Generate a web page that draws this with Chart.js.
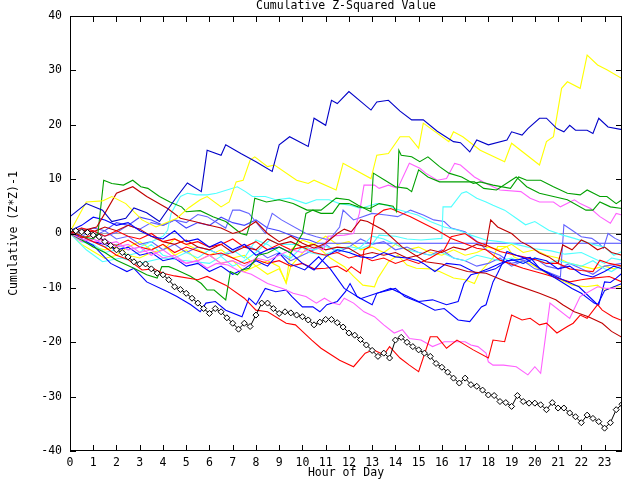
<!DOCTYPE html>
<html><head><meta charset="utf-8">
<script src="https://cdn.jsdelivr.net/npm/chart.js@4.4.0/dist/chart.umd.min.js"></script>
<style>html,body{margin:0;padding:0;background:#fff}canvas{display:block}</style>
</head><body>
<canvas id="c" width="640" height="480"></canvas>
<script>
// ---------- text ----------
const chartTitle = 'Cumulative Z-Squared Value';
const xTitle = 'Hour of Day';
const yTitle = 'Cumulative (Z*Z)-1';
// ---------- tick labels ----------
const xTickHours = [0,1,2,3,4,5,6,7,8,9,10,11,12,13,14,15,16,17,18,19,20,21,22,23];
const yTickValues = [-40,-30,-20,-10,0,10,20,30,40];
// ---------- series: [hour, value] ----------
const blackValues = [
 0.6,0.5,0.3,0.2, -0.3,-0.6,-1.5,-2.2, -3,-3.5,-4.3,-5.2, -5.6,-5.6,-6.5,-7.3,
 -7.6,-8.5,-9.8,-10.3, -11,-11.9,-12.8,-13.8, -14.7,-13.8,-14.4,-15.5, -16.5,-17.6,-16.5,-17.1,
 -15,-12.8,-12.8,-13.8, -14.7,-14.4,-14.6,-15, -15.3,-15.9,-16.8,-16.3, -15.8,-15.8,-16.4,-17.2,
 -18.3,-18.7,-19.5,-20.5, -21.5,-22.6,-22,-22.9, -19.6,-19.1,-20,-20.8, -21.4,-22,-22.6,-23.9,
 -24.6,-25.5,-26.6,-27.5, -26.6,-27.8,-28.1,-28.8, -29.7,-29.8,-30.9,-31.1, -31.8,-29.8,-30.9,-31.2,
 -31.2,-31.5,-32.4,-31.1, -32.1,-32.1,-33,-33.7, -34.8,-33.4,-34,-34.6, -35.8,-34.8,-32.4,-31.4];
const blackHours = blackValues.map((v, i) => i / 4);

const navy = [[0,3.1],[0.7,5.5],[1.4,4.3],[1.8,2.2],[2.4,2.8],[2.75,4.7],[3.3,3.8],[3.85,2.2],[4.5,6.2],[5.05,9.3],[5.65,7.7],[5.9,15.3],[6.5,14.4],[6.7,16.3],[7.35,14.7],[8,13.2],[8.7,11.4],[9,16.3],[9.45,17.8],[10.25,16],[10.5,21.2],[11,19.9],[11.25,24.5],[11.5,23.9],[12,26.1],[12.95,22.7],[13.2,24.2],[13.7,24.5],[14.2,22.5],[14.7,20.9],[15.2,20.9],[15.8,18.8],[16.5,16.9],[16.8,16.7],[17.2,15],[17.5,17.2],[18,16.3],[18.8,17.2],[19,18.7],[19.45,18.1],[19.7,19.3],[20.2,21.2],[20.5,21.2],[20.95,19.3],[21.25,18.7],[21.5,19.9],[21.75,19],[22.25,19],[22.5,18.4],[22.75,21.2],[23.15,19.6],[23.75,19.1]];
const yellowTop = [[0,0.3],[0.7,5.8],[1.4,6],[1.8,6.8],[2.4,5.5],[3.1,2.5],[3.7,1.2],[4.6,2.8],[5.1,4.7],[5.6,6.2],[5.9,6.8],[6.5,4.9],[6.85,5.8],[7.15,9.5],[7.45,9.8],[7.75,13.5],[7.95,14.1],[8.5,12.3],[8.8,12.6],[9.75,9.8],[10.25,9.2],[10.5,9.8],[11.45,8],[11.75,12.9],[12.95,10.1],[13.2,14.4],[13.7,14.7],[14.2,17.8],[14.6,17.8],[15,15.7],[15.2,20.3],[16.3,16.9],[16.5,18.7],[16.9,17.8],[17.65,15.3],[18.7,13.2],[19,16.6],[20.2,12.6],[20.5,16.9],[20.8,17.8],[21.15,26.7],[21.4,27.9],[21.95,26.7],[22.25,32.8],[22.7,31],[23.1,30.1],[23.75,28.5]];
const redLow = [[0,0.5],[0.5,-0.5],[1,-1.5],[1.5,-2.5],[2,-4],[2.5,-4.8],[3.1,-6.7],[3.6,-6.5],[4,-7.3],[4.5,-7.8],[5.5,-8.5],[5.9,-7.9],[6.7,-9.5],[7.5,-11.9],[8,-14.1],[8.5,-14.4],[9.3,-16.5],[9.7,-16.8],[10,-18],[10.4,-19.6],[10.8,-21.1],[11.2,-22.2],[11.6,-23.3],[12.2,-24.5],[12.7,-22],[13.05,-21.4],[13.5,-22.3],[13.75,-20.8],[14.2,-22.9],[14.6,-24.2],[15,-25.4],[15.5,-19],[15.8,-19],[16.2,-21.1],[16.65,-19.6],[17.35,-21.4],[18,-22.9],[18.2,-19.6],[18.7,-19.9],[19,-15],[19.45,-15.9],[19.8,-15.6],[20.2,-16.8],[20.5,-16.5],[20.95,-18.3],[21.4,-17.1],[21.65,-16.5],[21.95,-15],[22.25,-15.6],[22.7,-13.1],[22.9,-14.1],[23.35,-15.3],[23.75,-16]];
const darkRed1 = [[0,0],[0.5,0.5],[1.15,1.2],[1.5,3.7],[2,7.4],[2.7,8.6],[3.3,6.8],[4.2,4.6],[4.75,2.8],[5.35,2.2],[5.9,1.6],[6.5,1],[7,0],[7.4,0.5],[8,2.2],[8.5,0],[9,-1.5],[9.5,-0.5],[10,-1.8],[10.5,-2.7],[11,-1.8],[11.5,0],[11.8,0.8],[12.1,0.3],[12.5,2.5],[12.8,2.2],[13.5,0.6],[14.3,-2.5],[15.3,-5.2],[16,-5.6],[17.1,-7],[17.9,-7.3],[18.8,-8.9],[20.2,-11],[20.9,-12.2],[21.2,-13.1],[21.7,-14.4],[22.3,-15.3],[22.9,-16.5],[23.3,-18],[23.75,-19.1]];
const darkRed2 = [[0,0],[0.5,0.6],[1,0.3],[1.5,1.2],[2,0.5],[2.5,1.5],[3,0.8],[3.5,-0.5],[4,-1.5],[4.5,-2],[5,-1.2],[5.5,-2.5],[6,-3],[6.5,-2],[7,-3.5],[7.5,-2.5],[8,-3],[8.5,-1],[9,-2],[9.5,-1.5],[10,-2.5],[10.5,-2],[11,-3],[11.5,-2.5],[12,-2.7],[12.5,-4],[13,-3.5],[13.5,-4],[14,-3.5],[14.5,-4.5],[15,-4],[15.5,-3],[16,-3.5],[16.5,-2.5],[17,-3],[17.5,-2],[17.9,-2.4],[18.1,2.5],[18.4,1.2],[19,0],[19.4,-1.5],[19.8,-2.4],[20.2,-3.6],[20.6,-4.3],[21,-5.5],[21.2,-2.1],[21.6,-3],[22,-1.2],[22.3,-1.8],[22.7,-3],[23,-2.5],[23.3,-3.5],[23.75,-4]];
const red2 = [[0,0],[0.5,-0.8],[1,-0.3],[1.5,-1.5],[2,-2.2],[2.5,-1.2],[3,-2.5],[3.5,-3],[4,-2],[4.5,-3.5],[5,-2.5],[5.5,-3.2],[6,-4],[6.5,-3.6],[7,-4.5],[7.5,-5.5],[8,-4.8],[8.5,-5.5],[9,-5],[9.5,-6],[10,-5.5],[10.5,-6.5],[11,-6.4],[11.5,-6],[11.9,-7],[12.1,-6.1],[12.5,-7.3],[12.65,-3],[12.9,-2.4],[13.1,3.1],[13.5,4.3],[13.8,4.6],[14.65,3.1],[15.2,1.9],[15.8,0.6],[16.4,-0.9],[16.95,-1.8],[17.5,-2.7],[17.9,-3],[18.5,-4.9],[19.5,-6.4],[20.5,-7.6],[21.5,-8.9],[22,-8.5],[22.5,-8.2],[23.2,-7.9],[23.75,-8.9]];
const red3 = [[0,0.3],[0.5,1],[1,0.5],[1.5,-0.5],[2,0.5],[2.5,-0.5],[3,-1],[3.5,0],[4,-1.5],[4.5,-1],[5,-2],[5.5,-1.5],[6,-2.5],[6.5,-2],[7,-1],[7.5,-2.5],[8,-1.5],[8.5,-3],[9,-2],[9.5,-3],[10,-2.5],[10.5,-3.5],[11,-4],[11.5,-3.5],[12,-4.5],[12.5,-4],[13,-5],[13.5,-4.5],[14,-5.5],[14.5,-4.8],[15,-5.5],[15.5,-4.5],[16.1,-3],[16.4,-0.6],[17,0],[17.5,-1.5],[17.9,-2.1],[18.5,-3.3],[19,-3.8],[19.5,-4.3],[20,-4.8],[20.5,-5.5],[21,-5.5],[21.5,-6.5],[22,-6.8],[22.5,-7],[22.8,-4.9],[23.2,-5.5],[23.75,-6]];
const green1 = [[0,0.5],[0.5,-0.5],[1,-1],[1.2,0],[1.45,9.8],[1.8,9.2],[2.3,8.9],[2.7,9.8],[3.05,8.6],[3.35,8.3],[3.85,6.8],[4.3,5.8],[4.8,4.9],[5,4],[5.6,4.2],[6.15,3.1],[6.7,2.2],[7.35,0],[7.6,-0.3],[7.8,2.5],[7.95,6.5],[8.45,5.8],[9,6.2],[9.6,5.5],[10.2,4.3],[10.8,4.3],[11.45,6.5],[12,6.2],[12.4,5.2],[12.95,4],[13.05,11.1],[13.55,9.8],[14,8.6],[14.5,8.3],[14.7,7.7],[15,11.7],[15.4,10.4],[15.9,9.5],[17.4,9.5],[17.8,8.3],[18.35,8],[19.2,10.4],[19.65,8.6],[20.2,7.4],[20.8,6.8],[21.4,6.2],[22.2,4.3],[22.5,4.3],[22.8,5.8],[23.25,4.9],[23.75,4.6]];
const green2 = [[0,0],[0.5,-1.2],[1,-2.5],[1.5,-3.5],[2,-4.9],[2.75,-6.4],[3.3,-7.6],[3.75,-8.2],[3.95,-6.1],[4.25,-6.1],[4.6,-6.7],[5.2,-7.9],[5.65,-9.2],[5.9,-10.4],[6.2,-10.4],[6.7,-12.2],[6.9,-7],[7.2,-7.6],[7.4,-6.7],[7.7,-6.4],[8.1,-4],[8.5,-3.6],[9,-2.5],[9.5,-3.6],[10,0],[10.15,3.7],[10.45,4.3],[10.8,3.7],[11.3,3.7],[11.6,5.5],[12,5.5],[12.4,4.9],[12.9,4.6],[13.3,5.5],[13.9,5],[14.05,4],[14.15,15.3],[14.25,14.4],[14.7,14.1],[15.05,13.2],[15.4,14.1],[15.9,12.3],[16.3,11.1],[16.85,10.4],[17.35,9.2],[17.65,9.5],[18.2,8.9],[18.95,8.3],[19.3,10.4],[19.65,9.8],[20.25,9.8],[20.8,8.6],[21.4,7.4],[21.95,7.1],[22.25,8],[22.8,6.8],[23.1,6.8],[23.5,5.5],[23.75,6.2]];
const magenta1 = [[0,0],[0.5,-1.5],[1,-1],[1.5,-2],[2,-1.5],[2.5,-3],[3,-2.5],[3.5,-4],[4,-3],[4.5,-4.5],[5,-5.5],[5.5,-5],[6,-4],[6.5,-5.5],[7,-5],[7.5,-6],[8,-4.5],[8.5,-5],[9,-4],[9.5,-3],[10,-3.5],[10.5,-2.5],[10.9,-3],[11.1,-0.5],[11.8,-0.3],[12.2,0],[12.45,3.7],[12.65,8.9],[13.1,8.9],[13.3,8.3],[13.7,8.9],[14.1,8.3],[14.6,12.9],[15.05,12],[15.3,11.1],[15.8,9.8],[16.2,10.1],[16.55,12.9],[16.8,12.6],[17.4,10.4],[17.9,9.2],[18.5,8],[19.4,7.7],[19.8,6.5],[20.2,5.8],[20.8,5.8],[21.1,4.9],[21.7,6.2],[21.95,5.5],[22.4,4.6],[22.8,3.1],[23.25,1.9],[23.5,3.7],[23.75,3.4]];
const magenta2 = [[0,0],[0.5,-1],[1,-1.5],[1.5,-1],[2,-2.5],[2.5,-2],[3,-3.5],[3.5,-3],[4,-4.5],[4.5,-4],[5,-5.5],[5.45,-5],[5.9,-6.4],[6.3,-5.5],[6.8,-5.8],[7.2,-6.7],[7.8,-7.5],[8.5,-9.2],[9.2,-10.2],[9.6,-11],[10.15,-11.6],[10.6,-12.8],[10.95,-11.9],[11.3,-12.8],[11.6,-13.1],[11.8,-11.9],[12.2,-12.8],[12.65,-14.4],[13.1,-15.3],[13.5,-16.8],[13.95,-18.3],[14.3,-17.7],[14.6,-19.3],[15.1,-19.6],[15.6,-20.8],[16.1,-19.9],[16.45,-19.9],[17,-19.9],[17.25,-20.5],[17.55,-20.8],[17.9,-22],[18,-23.6],[18.2,-24.2],[18.65,-24.2],[19.2,-24.5],[19.7,-26],[20,-24.5],[20.25,-25.7],[20.65,-12.8],[21.5,-15.6],[21.95,-11.6],[22.7,-9.8],[23.1,-10.1],[23.75,-10.1]];
const periwinkle1 = [[0,0.5],[0.5,-0.5],[1,0.5],[1.5,-0.5],[2,0.2],[2.5,1.5],[3,0.8],[3.5,2],[4,1.5],[4.5,2.5],[5,2],[5.5,3.5],[5.9,3.1],[6.7,1],[7,4.3],[7.3,4.3],[7.7,3.7],[8.4,0],[8.7,3.7],[9.1,2.5],[10.15,0],[10.6,-0.6],[11.15,-1.2],[11.6,1.2],[11.75,4.3],[12.2,2.5],[13,3.7],[13.6,3.4],[14.1,3.1],[14.65,4.3],[15.2,3.4],[15.65,2.5],[16.1,2.2],[16.4,1],[17,0.3],[17.25,-0.6],[17.7,-2.1],[17.9,-3],[18.5,-4],[19,-5.5],[19.5,-5],[20,-6.5],[20.5,-7],[21.1,-8],[21.25,1.6],[21.6,0.6],[22,-0.6],[22.45,-0.9],[22.75,-1.8],[22.95,-2.7],[23.15,0],[23.45,-0.9],[23.75,-1.5]];
const periwinkle2 = [[0,0],[0.5,1],[1,-0.5],[1.5,0.5],[2,-1],[2.5,-0.5],[3,-2],[3.5,-1.5],[4,-3],[4.5,-2],[5,-3.5],[5.5,-2.5],[6,-3],[6.5,-4],[7,-3.5],[7.5,-2],[8,-3],[8.5,-4.5],[9,-3.5],[9.5,-5],[10,-4],[10.5,-3],[11,-2],[11.5,-3.5],[12,-2.5],[12.5,-1],[13,-2],[13.5,-1.5],[14,-3],[14.5,-2.5],[15,-3.5],[15.5,-4],[16,-3],[16.5,-4.5],[17,-5],[17.5,-6],[18,-5.5],[18.5,-4.5],[19,-6],[19.5,-5],[20,-4.5],[20.5,-6],[21,-6.5],[21.5,-5.5],[22,-6.5],[22.5,-7.5],[23,-6],[23.75,-5.5]];
const flatBlue = [[0,1],[0.5,0],[1,1],[1.5,0.5],[2,2],[2.5,1.5],[3,3],[3.5,2.5],[4,1.5],[4.5,2.5],[5,1],[5.5,2],[6,1.5],[6.5,3],[7,2],[7.5,1.5],[8,2.5],[8.5,1],[9,0.5],[9.3,0],[9.8,-0.8],[10.3,-1.2],[10.65,-1.8],[23.75,-1.8]];
const blue2 = [[0,0],[0.5,-1],[1,-2.2],[1.75,-5.5],[2.45,-7],[2.75,-6.4],[3.3,-8.9],[4.2,-10.7],[4.6,-11.6],[5.2,-13.1],[5.6,-14.4],[5.85,-12.8],[6.25,-12.5],[6.7,-14.1],[7.4,-15.3],[7.7,-11.9],[8,-13.1],[8.4,-10.1],[8.85,-10.7],[9.3,-10.4],[9.55,-11.6],[10,-13.5],[10.45,-13.5],[10.75,-14.4],[11.05,-13.1],[11.5,-12.5],[11.85,-10.7],[12.05,-9.2],[12.35,-11.6],[13,-13.1],[13.2,-11],[13.8,-10.1],[14.4,-11.3],[15,-12.5],[15.6,-12.2],[16.2,-13.1],[16.7,-12.5],[16.95,-9.2],[17.25,-7.6],[17.5,-7.3],[17.9,-7],[18.3,-6.5],[18.8,-5],[19.3,-4.8],[19.8,-4.4],[20.2,-6.4],[21,-8.5],[21.6,-10.1],[22,-11],[22.55,-12.8],[22.75,-13.1],[23,-8.9],[23.25,-9],[23.5,-8.2],[23.75,-7.3]];
const blue3 = [[0,0],[0.5,-0.5],[1,-1.5],[1.5,-2],[2,-3],[2.5,-2.5],[3,-4],[3.5,-3.5],[4,-5],[4.5,-4.5],[5,-6],[5.5,-5.5],[6,-7],[6.5,-6],[7,-7.5],[7.5,-6.5],[8,-5],[8.5,-6],[9,-3.6],[9.4,-5.5],[10.1,-6.7],[10.7,-4.3],[11.2,-6.5],[11.8,-10.1],[12.5,-12],[13.2,-11],[14,-10.1],[14.4,-11.6],[15.1,-12.8],[15.7,-14.1],[16.1,-13.8],[16.7,-15.9],[17.2,-16.2],[17.7,-13.5],[17.9,-13.1],[18.2,-8.9],[18.4,-7.3],[18.6,-5.5],[18.8,-3.3],[19.2,-4],[19.6,-4.6],[20.2,-6.4],[20.7,-7.5],[21.2,-8.5],[21.9,-9.8],[22.7,-13.1],[23,-10.5],[23.75,-9.2]];
const blue4 = [[0,0.5],[0.5,1.5],[1,3],[1.5,2.5],[2,1.5],[2.5,2],[3,0.5],[3.5,-0.5],[4,-1],[4.5,0.5],[5,-1.5],[5.5,-1],[6,-2.5],[6.5,-1.5],[7,-3],[7.5,-2],[8,-4],[8.5,-3],[9,-2.5],[9.5,-3.6],[10,-5.5],[10.5,-6.7],[11,-4.3],[11.5,-3],[12,-3.5],[12.5,-4.3],[13,-4.5],[13.5,-3.5],[14,-4.3],[14.5,-4.5],[15,-5],[15.2,-5.5],[15.7,-7],[16.2,-5.5],[16.8,-5.8],[17.5,-7.3],[18,-6.5],[18.5,-5.5],[19,-4.8],[19.5,-5.5],[20,-4.5],[20.5,-5],[21,-6.5],[21.5,-6],[22,-7.5],[22.5,-8],[23,-7],[23.4,-6],[23.75,-6.5]];
const cyan1 = [[0,0],[0.5,-1],[1,-1.5],[1.5,-2.5],[2,-2],[2.5,-3],[3,-2.5],[3.5,-1.5],[4,-0.5],[4.2,0.6],[4.35,3.7],[4.75,6.8],[5.05,7.4],[5.45,7.1],[5.9,7.1],[6.3,7.4],[7.2,8.6],[7.55,7.7],[7.85,6.8],[8.4,6.8],[8.85,6.2],[9.45,6.5],[10.15,5.5],[10.6,6.2],[11.15,6.2],[11.6,5.5],[12.05,5.2],[12.5,4.6],[13.2,5.5],[13.65,5.2],[13.95,4.6],[14.45,4],[14.95,3.4],[15.5,2.2],[16.1,1.2],[16.7,0.6],[17.25,-0.3],[17.9,-1.2],[18.5,-1.5],[19.2,-2],[20,-2.8],[20.7,-3.2],[21.3,-3.8],[22,-3.5],[22.5,-4.5],[23,-5.5],[23.3,-4.5],[23.75,-4.9]];
const cyan2 = [[0,0],[0.5,-1.5],[1,-2],[1.5,-3.5],[2,-3],[2.5,-4],[3,-3.5],[3.5,-2],[4,-4],[4.5,-4.5],[5,-3.5],[5.5,-4.5],[6,-3],[6.5,-4],[7,-3],[7.5,-4.5],[8,-1.2],[8.5,-2],[9,-3.5],[9.5,-4.5],[10,-2.4],[10.5,-3],[11,-2.4],[11.5,-3],[12,-2.4],[12.5,-2.8],[13,-2],[13.3,-0.3],[14,-0.5],[14.5,-1],[15.1,-1.2],[16,-0.9],[16.05,4.9],[16.4,4.9],[16.85,7.4],[17.05,7.7],[17.5,6.5],[17.9,5.8],[18.2,5.2],[18.7,4.3],[19.2,2.8],[19.6,1.6],[20,2.2],[20.6,0.6],[21.2,-0.3],[21.7,-0.9],[22.5,-2],[23,-2.5],[23.4,-4],[23.75,-3.3]];
const cyan3 = [[0,0],[0.7,-3],[1.4,-5.2],[2.2,-4.5],[3,-5.5],[4,-4.5],[5,-5],[6,-5.5],[6.5,-4.2],[7,-6],[7.5,-5],[8,-3.5],[8.6,-1.2],[9,-2],[9.8,-2],[10.3,-3.5],[10.9,-4],[11.5,-3],[12,-3.5],[12.5,-2.5],[13,-0.5],[13.5,-1],[14,-2],[14.5,-3],[15,-3.5],[15.5,-4],[16,-3.5],[16.5,-4.5],[17,-5],[17.5,-4],[18,-4.5],[18.5,-5],[19,-4.5],[19.5,-5.5],[20,-4.5],[20.5,-5.5],[21,-5],[21.5,-5.5],[22,-6],[22.5,-5],[23,-6.5],[23.3,-7],[23.75,-5.8]];
const yellow2 = [[0,0],[0.5,-1],[1,-2.5],[1.5,-3],[2,-2.5],[2.5,-4],[3,-4.5],[3.5,-3.5],[4,-3],[4.5,-1],[5,-2],[5.5,-3],[6,-4],[6.5,-3],[7,-4.5],[7.5,-4],[8,-6],[8.5,-5],[9,-6.1],[9.3,-9.2],[9.5,-6],[10,-3.6],[10.4,-1.8],[10.8,-3],[11.2,-4.5],[11.8,-6.1],[12.2,-7.9],[12.6,-9.5],[13.1,-9.8],[13.25,-8.2],[13.7,-5.2],[14.1,-4],[14.5,-5.8],[14.9,-6.4],[15.5,-6.5],[15.9,-7],[16.5,-8.2],[17,-8.5],[17.4,-9.2],[17.6,-7.3],[18.2,-4.5],[18.4,-2.4],[18.8,-2.4],[19.1,-4.3],[19.9,-5.8],[20.5,-7.3],[21.1,-8.5],[21.6,-9.5],[22.2,-9.8],[22.7,-9.5],[23,-10.5],[23.4,-9.8],[23.75,-9.8]];
const yellow3 = [[0,0],[0.5,-2],[1,-3.3],[1.5,-4.6],[2,-4],[2.5,-2.5],[3,-1.5],[3.5,-3],[4,-2],[4.5,-4],[5,-3],[5.5,-5],[6,-4],[6.5,-5.5],[7,-5],[7.5,-7],[8,-6],[8.5,-7.5],[9,-6.5],[9.3,-9],[9.5,-3],[10,-1.2],[10.5,-2],[11,-0.5],[11.5,-2],[12,-1.5],[12.5,-3],[13,-2.5],[13.5,-3.5],[14,-2],[14.5,-3],[15,-2.5],[15.5,-3.5],[16,-4],[16.5,-3],[17,-4],[17.5,-3.5],[18,-2.5],[18.5,-3],[19,-2],[19.5,-3.5],[20,-3],[20.5,-4],[21,-4.5],[21.5,-5.5],[22,-6],[22.5,-6.5],[23,-6],[23.4,-6.5],[23.75,-6]];

// ---------- styles ----------
const C = {navy:'#0000c8', blue:'#0000ff', peri:'#6464ff', flat:'#4646ff', red:'#ff0000', dred:'#c00000',
  green:'#00a000', yellow:'#ffff00', cyan:'#50ffff', magenta:'#ff60ff'};
const FONT = {family:'"DejaVu Sans Mono", monospace', size:11.5};

const lineSeries = [
  [navy, C.navy], [yellowTop, C.yellow], [redLow, C.red], [darkRed1, C.dred], [magenta2, C.magenta],
  [green1, C.green], [green2, C.green], [magenta1, C.magenta], [blue2, C.blue], [blue3, C.blue],
  [blue4, C.blue], [red2, C.red], [red3, C.red], [darkRed2, C.dred], [cyan1, C.cyan], [cyan2, C.cyan],
  [cyan3, C.cyan], [periwinkle1, C.peri], [periwinkle2, C.peri], [flatBlue, C.flat],
  [yellow2, C.yellow], [yellow3, C.yellow]
];

const datasets = [{
  data: blackHours.map((h, i) => ({x: h, y: blackValues[i]})),
  borderColor: '#000', borderWidth: 1, pointStyle: 'rectRot', pointRadius: 3,
  pointBackgroundColor: '#fff', pointBorderColor: '#000', pointBorderWidth: 1
}];
lineSeries.forEach(([arr, col]) => datasets.push({
  data: arr.map(p => ({x: p[0], y: p[1]})), borderColor: col, borderWidth: 1.1, pointRadius: 0
}));

const framePlugin = {
  id: 'frame',
  afterDraw(chart) {
    const ctx = chart.ctx, a = chart.chartArea, xs = chart.scales.x, ys = chart.scales.y;
    ctx.save();
    ctx.strokeStyle = '#000'; ctx.lineWidth = 1;
    ctx.strokeRect(Math.round(a.left) + 0.5, Math.round(a.top) + 0.5,
      Math.round(a.right - a.left) - 1, Math.round(a.bottom - a.top) - 1);
    ctx.beginPath();
    xTickHours.forEach(h => {
      const x = Math.round(xs.getPixelForValue(h)) + 0.5;
      ctx.moveTo(x, a.bottom); ctx.lineTo(x, a.bottom - 6);
      ctx.moveTo(x, a.top); ctx.lineTo(x, a.top + 6);
    });
    yTickValues.forEach(v => {
      const y = Math.round(ys.getPixelForValue(v)) + 0.5;
      ctx.moveTo(a.left, y); ctx.lineTo(a.left + 6, y);
      ctx.moveTo(a.right, y); ctx.lineTo(a.right - 6, y);
    });
    ctx.stroke();
    ctx.fillStyle = '#000';
    ctx.font = FONT.size + 'px ' + FONT.family;
    ctx.textAlign = 'center'; ctx.textBaseline = 'middle';
    ctx.fillText(chartTitle, (a.left + a.right) / 2, 6);
    ctx.restore();
  }
};

new Chart(document.getElementById('c'), {
  type: 'line',
  data: {datasets},
  options: {
    responsive: false, animation: false, devicePixelRatio: 1,
    layout: {padding: {left: 0, right: 18, top: 16, bottom: 0}},
    elements: {line: {tension: 0}},
    plugins: {legend: {display: false}, title: {display: false}, tooltip: {enabled: false}},
    scales: {
      x: {
        type: 'linear', min: 0, max: 23.75,
        afterFit(s) { s.height = 29; },
        border: {display: false},
        grid: {display: false, drawTicks: false},
        ticks: {stepSize: 1, includeBounds: false, autoSkip: false, maxRotation: 0,
          color: '#000', font: FONT, padding: 5},
        title: {display: true, text: xTitle, color: '#000', font: FONT, padding: {top: 0, bottom: 0}}
      },
      y: {
        min: -40, max: 40,
        afterFit(s) { s.width = 70; },
        border: {display: false},
        grid: {drawTicks: false, lineWidth: 1,
          color: c => (c.tick && c.tick.value === 0) ? '#a0a0a0' : 'rgba(0,0,0,0)'},
        ticks: {stepSize: 10, color: '#000', font: FONT, padding: 8},
        title: {display: true, text: yTitle, color: '#000', font: FONT, padding: {top: 7, bottom: 0}}
      }
    }
  },
  plugins: [framePlugin]
});
</script>
</body></html>
